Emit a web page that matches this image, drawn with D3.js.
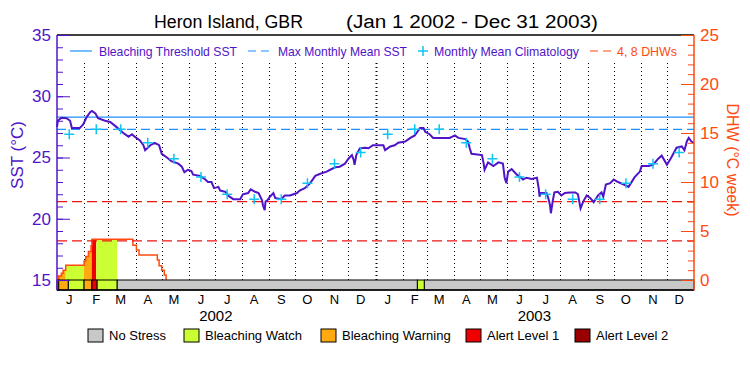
<!DOCTYPE html>
<html>
<head>
<meta charset="utf-8">
<script src="https://cdn.jsdelivr.net/npm/d3@7"></script>
<style>
  body { margin: 0; background: #fff; }
  text { font-family: "Liberation Sans", Arial, sans-serif; }
</style>
</head>
<body>
<svg id="chart"></svg>
<script>
// chart data (days counted from Jan 1 2002)
const monthLetters = ["J", "F", "M", "A", "M", "J", "J", "A", "S", "O", "N", "D"];
const years = [2002, 2003];

const sstDays = [0,1,5,11,15,17,26,30,34,38, 40,44,47,55,61,68,76,82,86,89,
  95,99,101,107,112,117,120,126,131,139, 143,146,150,154,156,164,170,173,177,180,
  185,187,193,196,202,210,213,219,222,227, 231,235,236,238,239,241,244,248,250,257,
  261,267,271,275,278,284,290,296,301,309, 313,319,324,330,334,338,340,341,343,347,
  353,357,362,370,374,376,382,387,391,399, 405,410,413,416,420,422,427,431,441,450,
  456,460,468,471,473,475,487,489,490,494, 500,506,511,513,515,517,521,527,531,534,
  538,544,550,552,553,554,561,563,565,566, 568,570,574,578,582,588,594,597,600,603,
  607,611,615,620,624,626,629,634,638,643, 649,655,662,668,670,678,683,689,693,699,
  704,710,716,719,722,724,727,730];
const sstValues = [27.5,28.0,28.25,28.2,28.0,27.4,27.4,27.7,28.3,28.7, 28.8,28.6,28.2,28.0,27.9,27.5,27.0,26.7,26.9,26.7,
  26.4,26.0,25.6,26.0,26.2,26.0,25.3,25.0,24.7,24.5, 24.25,23.8,24.0,23.9,23.6,23.5,23.2,23.0,23.0,22.5,
  22.6,22.3,22.2,21.9,21.6,21.6,22.0,22.1,22.4,22.2, 22.1,21.5,21.1,20.7,21.4,21.5,21.8,22.1,21.7,21.6,
  21.9,21.9,22.0,22.1,22.3,22.5,22.9,23.5,23.65,23.85, 24.0,24.2,24.25,24.5,24.9,25.2,24.8,24.4,25.2,25.75,
  25.8,25.75,26.0,26.0,26.0,25.6,25.9,26.0,26.2,26.3, 26.6,26.8,27.1,27.4,27.4,27.1,26.9,26.6,26.6,26.6,
  26.8,26.6,26.5,26.3,25.75,25.3,25.2,24.5,24.0,24.6, 24.3,24.6,24.5,23.35,22.9,23.85,24.05,23.6,23.4,23.2,
  23.35,23.25,23.35,22.5,21.8,22.1,22.1,21.7,21.1,20.45, 21.4,22.15,22.2,21.9,22.1,22.15,22.15,22.0,20.85,21.4,
  21.9,21.7,21.35,21.9,22.15,21.8,22.8,22.9,23.2,23.0, 22.8,22.6,23.4,23.85,24.3,24.3,24.4,24.9,25.15,24.4,
  25.0,25.8,25.9,25.6,26.35,26.6,26.3,26.2];

// monthly mean climatology, Jan..Dec
const climatology = [26.9, 27.3, 27.3, 26.2, 24.9, 23.4, 22.0, 21.6, 21.6, 22.9, 24.5, 25.4];
const maxMonthlyMean = 27.3;
const bleachingThreshold = 28.3;
const dhwLevels = [4, 8];

// degree heating weeks (step values)
const dhwDays = [2, 2, 5, 7, 10, 31, 33, 36, 39, 40, 87, 91, 94, 115, 117, 120, 123, 125];
const dhwValues = [0, 0.4, 0.7, 1.0, 1.5, 1.95, 2.4, 2.9, 3.5, 4.15, 3.55, 3.05, 2.55, 2.05, 1.45, 1.0, 0.5, 0];

// stress levels: 0 none, 1 watch, 2 warning, 3 alert 1, 4 alert 2
const stressStart = [0, 2, 13, 31, 40, 46, 69, 413, 421];
const stressEnd = [2, 13, 31, 40, 46, 69, 413, 421, 730];
const stressLevel = [1, 2, 1, 2, 3, 1, 0, 1, 0];

// shaded area under the DHW curve
const fillStart = [2, 10, 31, 40, 45];
const fillEnd = [10, 31, 40, 45, 69];
const fillLevel = [2, 1, 2, 3, 1];

const stressNames = ["No Stress", "Bleaching Watch", "Bleaching Warning", "Alert Level 1", "Alert Level 2"];

//colors
const PURPLE = "#5014c8";
const ORANGE = "#ff4a10";
const BLUE = "#1e90ff";
const CYAN = "#10c4f4";
const RED = "#f01414";
const STRESS_COLORS = ["#c8c8c8", "#ccff33", "#ffaa11", "#ee0000", "#990000"];

const X0 = 57, X1 = 694, Y_TOP = 35, Y_ZERO = 280, Y_BAR = 290;

const svg = d3.select("#chart").attr("width", 750).attr("height", 375);

const day = d => new Date(2002, 0, 1 + d);
const x = d3.scaleTime().domain([new Date(2002, 0, 1), new Date(2004, 0, 1)]).range([X0, X1]);
const ySst = d3.scaleLinear().domain([15, 35]).range([Y_ZERO, Y_TOP]);
const yDhw = d3.scaleLinear().domain([0, 25]).range([Y_ZERO, Y_TOP]);

// dotted month grid lines
const monthStarts = d3.timeMonth.range(new Date(2002, 1, 1), new Date(2004, 0, 1));
svg.append("g")
    .selectAll("line")
    .data(monthStarts)
    .enter()
    .append("line")
    .attr("x1", d => Math.round(x(d)) + 0.5)
    .attr("x2", d => Math.round(x(d)) + 0.5)
    .attr("y1", 63)
    .attr("y2", Y_ZERO)
    .attr("stroke", "#000")
    .attr("stroke-width", d => (d.getMonth() === 0 ? 2 : 1))
    .attr("stroke-dasharray", "1,3");

// threshold and MMM lines
svg.append("line")
    .attr("x1", X0).attr("x2", X1)
    .attr("y1", ySst(bleachingThreshold)).attr("y2", ySst(bleachingThreshold))
    .attr("stroke", BLUE).attr("stroke-width", 1.2);
svg.append("line")
    .attr("x1", X0).attr("x2", X1)
    .attr("y1", ySst(maxMonthlyMean)).attr("y2", ySst(maxMonthlyMean))
    .attr("stroke", BLUE).attr("stroke-width", 1.2)
    .attr("stroke-dasharray", "9,5");

// filled area under DHW, one piece per stress level
const dhwData = dhwDays.map((d, i) => ({ date: day(d), v: dhwValues[i] }));
const dhwArea = d3.area()
    .x(d => x(d.date))
    .y0(yDhw(0))
    .y1(d => yDhw(d.v))
    .curve(d3.curveStepAfter);

fillStart.forEach((s, i) => {
    const id = "clip" + i;
    svg.append("clipPath").attr("id", id)
        .append("rect")
        .attr("x", x(day(s)))
        .attr("y", 0)
        .attr("width", x(day(fillEnd[i])) - x(day(s)))
        .attr("height", Y_ZERO);
    svg.append("path")
        .datum(dhwData)
        .attr("d", dhwArea)
        .attr("fill", STRESS_COLORS[fillLevel[i]])
        .attr("clip-path", `url(#${id})`);
});

// DHW line
svg.append("path")
    .datum(dhwData)
    .attr("d", d3.line().x(d => x(d.date)).y(d => yDhw(d.v)).curve(d3.curveStepAfter))
    .attr("fill", "none")
    .attr("stroke", ORANGE)
    .attr("stroke-width", 1.5);

// 4 and 8 DHW lines
svg.append("g")
    .selectAll("line")
    .data(dhwLevels)
    .enter()
    .append("line")
    .attr("x1", X0).attr("x2", X1)
    .attr("y1", d => yDhw(d)).attr("y2", d => yDhw(d))
    .attr("stroke", RED).attr("stroke-width", 1.2)
    .attr("stroke-dasharray", "10,5");

// SST line
const sstData = sstDays.map((d, i) => ({ date: day(d), v: sstValues[i] }));
svg.append("path")
    .datum(sstData)
    .attr("d", d3.line().x(d => x(d.date)).y(d => ySst(d.v)))
    .attr("fill", "none")
    .attr("stroke", PURPLE)
    .attr("stroke-width", 2)
    .attr("stroke-linejoin", "miter");

// climatology crosses at mid month
const climData = [];
years.forEach(yr => climatology.forEach((v, m) => climData.push({ date: new Date(yr, m, 15), v: v })));
svg.append("g")
    .selectAll("path")
    .data(climData)
    .enter()
    .append("path")
    .attr("transform", d => `translate(${x(d.date)},${ySst(d.v)})`)
    .attr("d", "M-5,0H5M0,-5V5")
    .attr("stroke", CYAN)
    .attr("stroke-width", 1.5);

// stress bar
svg.append("g")
    .selectAll("rect")
    .data(stressStart)
    .enter()
    .append("rect")
    .attr("x", (s, i) => x(day(s)))
    .attr("y", Y_ZERO)
    .attr("width", (s, i) => x(day(stressEnd[i])) - x(day(s)))
    .attr("height", Y_BAR - Y_ZERO)
    .attr("fill", (s, i) => STRESS_COLORS[stressLevel[i]])
    .attr("stroke", "#000")
    .attr("stroke-width", 1);

// frame
svg.append("line").attr("x1", X0).attr("x2", X1).attr("y1", Y_TOP).attr("y2", Y_TOP).attr("stroke", "#000").attr("stroke-width", 1.5);
svg.append("line").attr("x1", X0).attr("x2", X1).attr("y1", Y_BAR).attr("y2", Y_BAR).attr("stroke", "#000").attr("stroke-width", 1.5);

/****************************  axes  ************************/
function styleAxis(g, color, size) {
    g.attr("color", color);
    g.select(".domain").remove();
    g.selectAll("text").style("font-family", "Liberation Sans, Arial, sans-serif").style("font-size", size + "px");
}

svg.append("g").attr("transform", `translate(${X0},0)`)
    .call(d3.axisLeft(ySst).tickValues(d3.range(15, 36, 1)).tickSize(-6).tickFormat(""))
    .call(g => styleAxis(g, PURPLE, 17));
svg.append("g").attr("transform", `translate(${X0},0)`)
    .call(d3.axisLeft(ySst).tickValues([15, 20, 25, 30, 35]).tickSize(-13).tickPadding(6))
    .call(g => styleAxis(g, PURPLE, 17));
svg.append("line").attr("x1", X0).attr("x2", X0).attr("y1", Y_TOP).attr("y2", Y_BAR).attr("stroke", PURPLE).attr("stroke-width", 1.5);

svg.append("g").attr("transform", `translate(${X1},0)`)
    .call(d3.axisRight(yDhw).tickValues(d3.range(0, 26, 1)).tickSize(-6).tickFormat(""))
    .call(g => styleAxis(g, ORANGE, 17));
svg.append("g").attr("transform", `translate(${X1},0)`)
    .call(d3.axisRight(yDhw).tickValues([0, 5, 10, 15, 20, 25]).tickSize(-13).tickPadding(6))
    .call(g => styleAxis(g, ORANGE, 17));
svg.append("line").attr("x1", X1).attr("x2", X1).attr("y1", Y_TOP).attr("y2", Y_BAR).attr("stroke", ORANGE).attr("stroke-width", 1.5);

// axis titles
svg.append("text")
    .attr("transform", "translate(23,155) rotate(-90)")
    .attr("text-anchor", "middle")
    .attr("fill", PURPLE)
    .style("font-size", "17px")
    .text("SST (°C)");
svg.append("text")
    .attr("transform", "translate(727,160) rotate(90)")
    .attr("text-anchor", "middle")
    .attr("fill", ORANGE)
    .style("font-size", "16px")
    .text("DHW (°C week)");

// month and year labels
const monthLabels = [];
years.forEach(yr => monthLetters.forEach((m, i) => monthLabels.push({ date: new Date(yr, i, 15), t: m })));
svg.append("g")
    .selectAll("text")
    .data(monthLabels)
    .enter()
    .append("text")
    .attr("x", d => x(d.date))
    .attr("y", 304)
    .attr("text-anchor", "middle")
    .style("font-size", "13px")
    .text(d => d.t);
svg.append("g")
    .selectAll("text")
    .data(years)
    .enter()
    .append("text")
    .attr("x", yr => x(new Date(yr, 6, 2)))
    .attr("y", 321)
    .attr("text-anchor", "middle")
    .style("font-size", "15px")
    .text(yr => yr);

// title
svg.append("text").attr("x", 154).attr("y", 28).style("font-size", "18px")
    .attr("textLength", 149).attr("lengthAdjust", "spacingAndGlyphs")
    .text("Heron Island, GBR");
svg.append("text").attr("x", 346).attr("y", 28).style("font-size", "18px")
    .attr("textLength", 252).attr("lengthAdjust", "spacingAndGlyphs")
    .text("(Jan 1 2002 - Dec 31 2003)");

/****************************  top legend  ************************/
const LEG_Y = 51;
svg.append("line").attr("x1", 70).attr("x2", 92).attr("y1", LEG_Y).attr("y2", LEG_Y).attr("stroke", BLUE).attr("stroke-width", 1.2);
svg.append("line").attr("x1", 248).attr("x2", 272).attr("y1", LEG_Y).attr("y2", LEG_Y).attr("stroke", BLUE).attr("stroke-width", 1.2).attr("stroke-dasharray", "8,5");
svg.append("path").attr("transform", `translate(423,${LEG_Y})`).attr("d", "M-5,0H5M0,-5V5").attr("stroke", CYAN).attr("stroke-width", 1.5);
svg.append("line").attr("x1", 590).attr("x2", 611).attr("y1", LEG_Y).attr("y2", LEG_Y).attr("stroke", ORANGE).attr("stroke-width", 1.2).attr("stroke-dasharray", "8,5");

const topLegendText = [
    { x: 99, t: "Bleaching Threshold SST", w: 138, c: PURPLE },
    { x: 278, t: "Max Monthly Mean SST", w: 129, c: PURPLE },
    { x: 434, t: "Monthly Mean Climatology", w: 145, c: PURPLE },
    { x: 617, t: "4, 8 DHWs", w: 60, c: ORANGE }
];
svg.append("g")
    .selectAll("text")
    .data(topLegendText)
    .enter()
    .append("text")
    .attr("x", d => d.x)
    .attr("y", LEG_Y + 5)
    .attr("fill", d => d.c)
    .attr("textLength", d => d.w)
    .attr("lengthAdjust", "spacingAndGlyphs")
    .style("font-size", "13px")
    .text(d => d.t);

/****************************  stress legend  ************************/
const legendX = [88, 184, 321, 466, 575];
const legend = svg.append("g")
    .selectAll("g")
    .data(stressNames)
    .enter()
    .append("g")
    .attr("transform", (d, i) => `translate(${legendX[i]},329)`);
legend.append("rect")
    .attr("width", 15)
    .attr("height", 13)
    .attr("fill", (d, i) => STRESS_COLORS[i])
    .attr("stroke", "#000")
    .attr("stroke-width", 1);
legend.append("text")
    .attr("x", 21)
    .attr("y", 11)
    .style("font-size", "13px")
    .text(d => d);
</script>
</body>
</html>
